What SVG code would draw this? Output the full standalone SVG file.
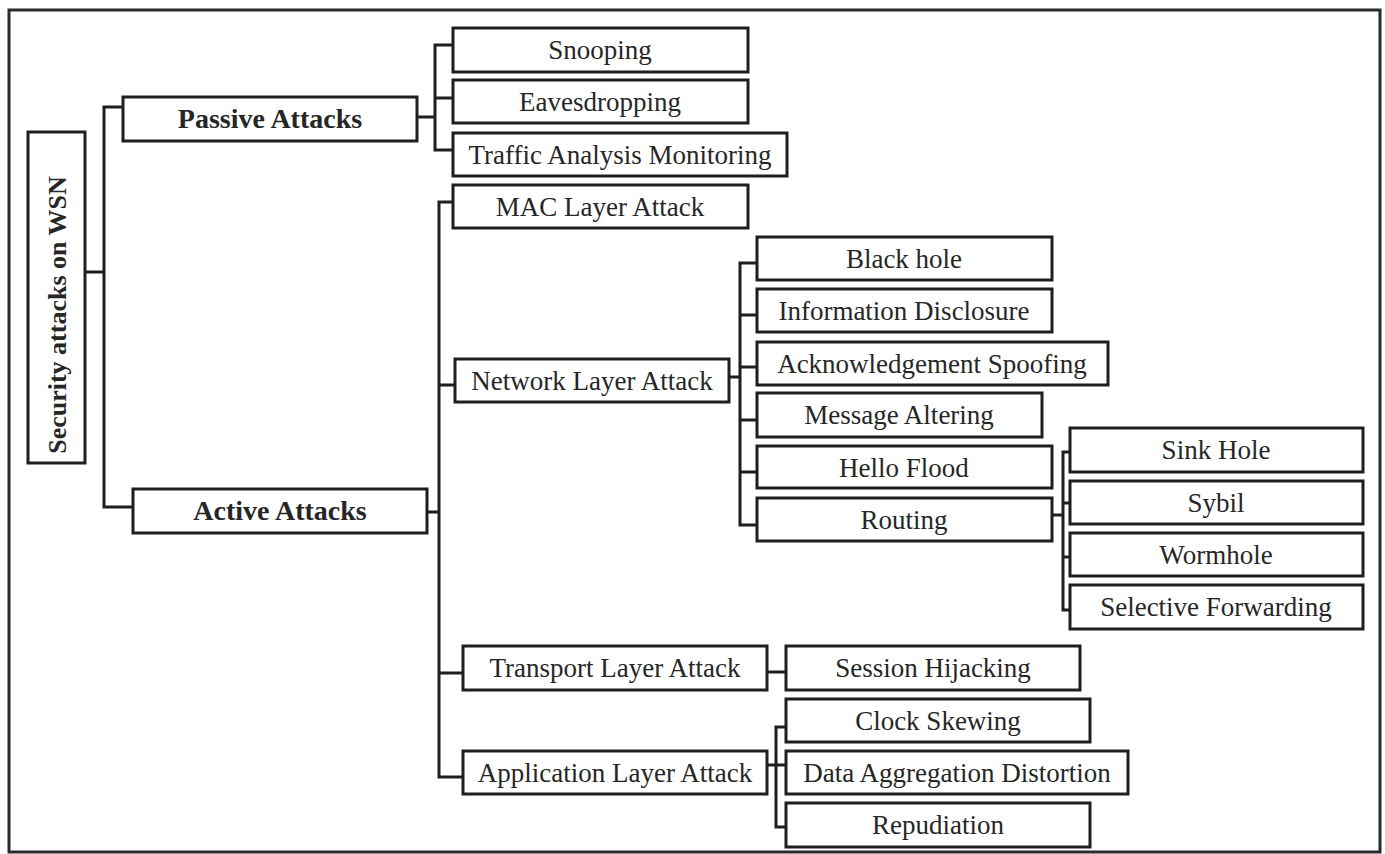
<svg xmlns="http://www.w3.org/2000/svg" width="1385" height="854" viewBox="0 0 1385 854">
<style>
.box{fill:#fff;stroke:#1e1e1e;stroke-width:3}
.frame{fill:#fff;stroke:#2a2a2a;stroke-width:3}
.c{fill:none;stroke:#1e1e1e;stroke-width:3}
text{font-family:"Liberation Serif","Times New Roman",serif;font-size:27px;fill:#262626;text-anchor:middle}
.b{font-weight:bold;font-size:28px}
.r{font-weight:bold;font-size:26px}
</style>
<rect class="frame" x="9" y="10" width="1371" height="842"/>
<g id="connectors">
<path class="c" d="M85,272 H104 M123,107 H104 V507 H133"/>
<path class="c" d="M417,117 H435 M453,45 H435 V150 H453 M435,98 H453"/>
<path class="c" d="M427,512 H439 M453,202 H439 V777 H463 M439,385 H455 M439,673 H463"/>
<path class="c" d="M729,377 H740 M757,263 H740 V525 H757 M740,315 H757 M740,367 H757 M740,420 H757 M740,472 H757"/>
<path class="c" d="M1052,515 H1063 M1070,452 H1063 V610 H1070 M1063,503 H1070 M1063,557 H1070"/>
<path class="c" d="M767,672 H786"/>
<path class="c" d="M767,765 H776 M786,727 H776 V827 H786 M776,765 H786"/>
</g>
<g id="root"><rect class="box" x="28" y="132" width="57" height="331"/><text class="r" transform="translate(66,315) rotate(-90)">Security attacks on WSN</text></g>
<g id="passive"><rect class="box" x="123" y="97" width="294" height="44"/><text class="b" x="270" y="128">Passive Attacks</text></g>
<g id="active"><rect class="box" x="133" y="489" width="294" height="44"/><text class="b" x="280" y="520">Active Attacks</text></g>
<g id="snooping"><rect class="box" x="453" y="28" width="295" height="44"/><text x="600" y="59">Snooping</text></g>
<g id="eavesdropping"><rect class="box" x="453" y="80" width="295" height="43"/><text x="600" y="111">Eavesdropping</text></g>
<g id="traffic"><rect class="box" x="453" y="133" width="334" height="43"/><text x="620" y="164">Traffic Analysis Monitoring</text></g>
<g id="mac"><rect class="box" x="453" y="185" width="295" height="43"/><text x="600" y="216">MAC Layer Attack</text></g>
<g id="network"><rect class="box" x="455" y="359" width="274" height="43"/><text x="592" y="390">Network Layer Attack</text></g>
<g id="transport"><rect class="box" x="463" y="646" width="304" height="44"/><text x="615" y="677">Transport Layer Attack</text></g>
<g id="application"><rect class="box" x="463" y="751" width="304" height="43"/><text x="615" y="782">Application Layer Attack</text></g>
<g id="blackhole"><rect class="box" x="757" y="237" width="295" height="43"/><text x="904" y="268">Black hole</text></g>
<g id="infodisclosure"><rect class="box" x="757" y="289" width="295" height="43"/><text x="904" y="320">Information Disclosure</text></g>
<g id="ackspoofing"><rect class="box" x="757" y="342" width="351" height="43"/><text x="932" y="373">Acknowledgement Spoofing</text></g>
<g id="msgaltering"><rect class="box" x="757" y="393" width="285" height="44"/><text x="899" y="424">Message Altering</text></g>
<g id="helloflood"><rect class="box" x="757" y="446" width="295" height="42"/><text x="904" y="477">Hello Flood</text></g>
<g id="routing"><rect class="box" x="757" y="498" width="295" height="43"/><text x="904" y="529">Routing</text></g>
<g id="sinkhole"><rect class="box" x="1070" y="428" width="293" height="44"/><text x="1216" y="459">Sink Hole</text></g>
<g id="sybil"><rect class="box" x="1070" y="481" width="293" height="43"/><text x="1216" y="512">Sybil</text></g>
<g id="wormhole"><rect class="box" x="1070" y="533" width="293" height="43"/><text x="1216" y="564">Wormhole</text></g>
<g id="selective"><rect class="box" x="1070" y="585" width="293" height="44"/><text x="1216" y="616">Selective Forwarding</text></g>
<g id="session"><rect class="box" x="786" y="646" width="294" height="44"/><text x="933" y="677">Session Hijacking</text></g>
<g id="clock"><rect class="box" x="786" y="699" width="304" height="43"/><text x="938" y="730">Clock Skewing</text></g>
<g id="dad"><rect class="box" x="786" y="751" width="342" height="43"/><text x="957" y="782">Data Aggregation Distortion</text></g>
<g id="repudiation"><rect class="box" x="786" y="803" width="304" height="44"/><text x="938" y="834">Repudiation</text></g>
</svg>
